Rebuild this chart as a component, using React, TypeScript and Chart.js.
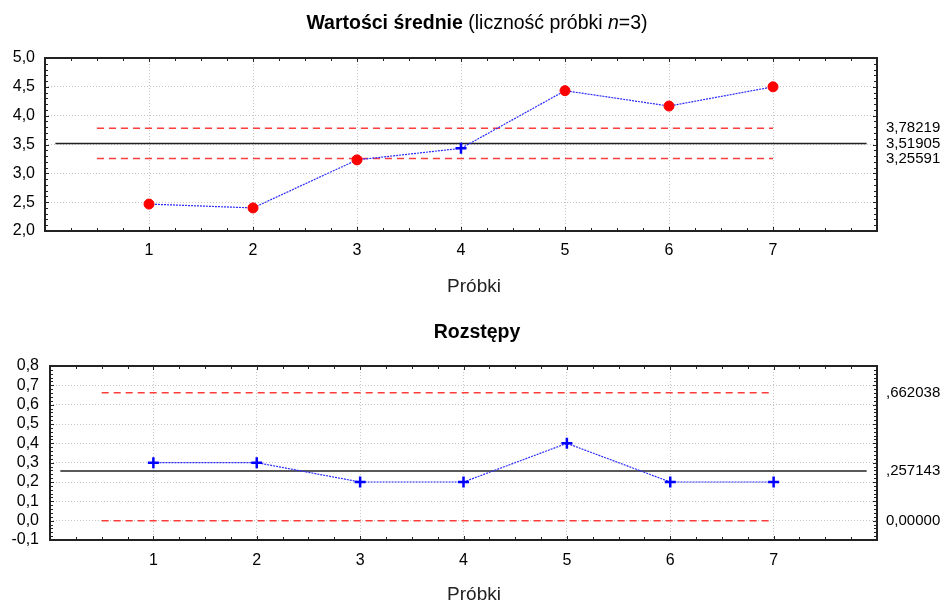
import React, { useEffect, useRef } from 'react';
import { Chart, registerables } from 'chart.js';
Chart.register(...registerables);

// ---- data ----
const samples = [1, 2, 3, 4, 5, 6, 7];
const means = [2.4667, 2.4, 3.2333, 3.4333, 4.4333, 4.1667, 4.5];
const meanLimits = [3.78219, 3.51905, 3.25591]; // UCL, CL, LCL
const meanLimitLabels = ['3,78219', '3,51905', '3,25591'];
const ranges = [0.3, 0.3, 0.2, 0.2, 0.4, 0.2, 0.2];
const rangeLimits = [0.662038, 0.257143, 0.0];
const rangeLimitLabels = [',662038', ',257143', '0,00000'];
const meanAxis = [2.0, 5.0, 0.5];
const rangeAxis = [-0.1, 0.8, 0.1];
const xAxisRange = [0, 8];
const centerSpan = [0.1, 7.9];
const limitSpan = [0.5, 7];
const xTitle = 'Próbki';
const meanTitle = [
  { text: 'Wartości średnie', style: 'bold' },
  { text: ' (liczność próbki ', style: 'normal' },
  { text: 'n', style: 'italic' },
  { text: '=3)', style: 'normal' },
];
const rangeTitle = [{ text: 'Rozstępy', style: 'bold' }];

const FONT = "'Liberation Sans', Arial, sans-serif";

function drawSegments(ctx: any, segs: any[], size: number, centerX: number, baseline: number, color: string) {
  ctx.save();
  ctx.fillStyle = color;
  ctx.textBaseline = 'alphabetic';
  ctx.textAlign = 'left';
  const fontFor = (s: string) =>
    (s === 'bold' ? 'bold ' : s === 'italic' ? 'italic ' : '') + size + 'px ' + FONT;
  let total = 0;
  const widths = segs.map((sg: any) => {
    ctx.font = fontFor(sg.style);
    const w = ctx.measureText(sg.text).width;
    total += w;
    return w;
  });
  let x = centerX - total / 2;
  segs.forEach((sg: any, i: number) => {
    ctx.font = fontFor(sg.style);
    ctx.fillText(sg.text, x, baseline);
    x += widths[i];
  });
  ctx.restore();
}

const titlePlugin = {
  id: 'mixedTitle',
  afterDraw(chart: any, _args: any, opts: any) {
    const { ctx } = chart;
    drawSegments(ctx, opts.segments || [], opts.size, opts.centerX, opts.baseline, '#000');
    drawSegments(ctx, [{ text: opts.xTitle, style: 'normal' }], opts.xTitleSize, opts.xTitleX, opts.xTitleBaseline, '#222');
  },
};

const framePlugin = {
  id: 'frame',
  afterDraw(chart: any, _args: any, opts: any) {
    const { ctx, chartArea: a, scales } = chart;
    const xs = scales.x;
    const ys = scales.y;
    ctx.save();
    ctx.strokeStyle = '#222';
    ctx.lineWidth = 1;
    const seg = (x1: number, y1: number, x2: number, y2: number) => {
      ctx.beginPath();
      ctx.moveTo(x1, y1);
      ctx.lineTo(x2, y2);
      ctx.stroke();
    };
    const nx = Math.round((xs.max - xs.min) / opts.xMinor);
    for (let i = 0; i <= nx; i++) {
      const v = xs.min + i * opts.xMinor;
      const px = Math.round(xs.getPixelForValue(v)) + 0.5;
      const major = Math.abs(v - Math.round(v)) < 1e-6;
      const len = major ? 4 : 3;
      seg(px, a.top, px, a.top + len);
      seg(px, a.bottom, px, a.bottom - len);
    }
    const ny = Math.round((ys.max - ys.min) / opts.yMinor);
    for (let i = 0; i <= ny; i++) {
      const v = ys.min + i * opts.yMinor;
      const py = Math.round(ys.getPixelForValue(v)) + 0.5;
      const major = i % opts.yPerMajor === 0;
      const len = major ? 4 : 3;
      seg(a.left, py, a.left + len, py);
      seg(a.right, py, a.right - len, py);
    }
    ctx.lineWidth = 2;
    ctx.strokeStyle = '#222';
    ctx.strokeRect(a.left, a.top, a.right - a.left, a.bottom - a.top);
    ctx.restore();
  },
};

function makeConfig(p: any) {
  const [ucl, cl, lcl] = p.limits;
  const out = (v: number) => v > ucl || v < lcl;
  const fmt = (v: number) => Number(v).toFixed(1).replace('.', ',');
  return {
    type: 'scatter',
    data: {
      datasets: [
        {
          data: p.values.map((v: number, i: number) => ({ x: samples[i], y: v })),
          showLine: true,
          borderColor: '#2b2bff',
          borderWidth: 1.2,
          borderDash: [2, 1],
          pointStyle: p.values.map((v: number) => (out(v) ? 'circle' : 'cross')),
          pointRadius: p.values.map((v: number) => (out(v) ? 5 : 5.5)),
          pointBorderWidth: p.values.map((v: number) => (out(v) ? 1 : 2.5)),
          pointBackgroundColor: p.values.map((v: number) => (out(v) ? '#ff0000' : '#0000ff')),
          pointBorderColor: p.values.map((v: number) => (out(v) ? '#ff0000' : '#0000ff')),
        },
        {
          data: centerSpan.map((x) => ({ x, y: cl })),
          showLine: true,
          borderColor: '#222',
          borderWidth: 1.5,
          pointRadius: 0,
        },
        {
          data: limitSpan.map((x) => ({ x, y: ucl })),
          showLine: true,
          borderColor: '#ff3c3c',
          borderWidth: 1.5,
          borderDash: [7, 5],
          pointRadius: 0,
        },
        {
          data: limitSpan.map((x) => ({ x, y: lcl })),
          showLine: true,
          borderColor: '#ff3c3c',
          borderWidth: 1.5,
          borderDash: [7, 5],
          pointRadius: 0,
        },
      ],
    },
    options: {
      animation: false,
      responsive: false,
      events: [],
      layout: { padding: { top: p.padTop, left: 0, right: 0, bottom: 0 } },
      plugins: {
        legend: { display: false },
        tooltip: { enabled: false },
        title: { display: false },
        mixedTitle: {
          segments: p.title,
          size: 19.5,
          centerX: 477,
          baseline: p.titleBaseline,
          xTitle,
          xTitleSize: 19,
          xTitleX: 474,
          xTitleBaseline: p.xTitleBaseline,
        },
        frame: { xMinor: 0.25, yMinor: p.axis[2] / 5, yPerMajor: 5 },
      },
      scales: {
        x: {
          type: 'linear',
          min: xAxisRange[0],
          max: xAxisRange[1],
          afterFit: (s: any) => {
            s.height = p.xHeight;
          },
          grid: { color: '#c4c4c4', lineWidth: 1, drawTicks: false },
          border: { display: false, dash: [1, 2] },
          ticks: {
            stepSize: 1,
            autoSkip: false,
            maxRotation: 0,
            padding: p.xTickPad,
            color: '#000',
            font: { family: FONT, size: 16 },
            callback: (v: number) => (samples.includes(v) ? String(v) : ''),
          },
          title: { display: false },
        },
        y: {
          type: 'linear',
          position: 'left',
          min: p.axis[0],
          max: p.axis[1],
          afterFit: (s: any) => {
            s.width = p.yWidth;
          },
          grid: { color: '#c4c4c4', lineWidth: 1, drawTicks: false },
          border: { display: false, dash: [1, 2] },
          ticks: {
            stepSize: p.axis[2],
            autoSkip: false,
            padding: p.yTickPad,
            color: '#000',
            font: { family: FONT, size: 16 },
            callback: (v: number) => fmt(v),
          },
        },
        y2: {
          type: 'linear',
          position: 'right',
          min: p.axis[0],
          max: p.axis[1],
          afterFit: (s: any) => {
            s.width = 68;
          },
          afterBuildTicks: (s: any) => {
            s.ticks = p.limits.map((v: number) => ({ value: v }));
          },
          grid: { display: false, drawTicks: false },
          border: { display: false },
          ticks: {
            autoSkip: false,
            padding: 9,
            color: '#000',
            font: { family: FONT, size: 15 },
            callback: (_v: number, i: number) => p.limitLabels[i],
          },
        },
      },
    },
    plugins: [titlePlugin, framePlugin],
  };
}

function ChartCanvas(props: { height: number; params: any }) {
  const ref = useRef<HTMLCanvasElement | null>(null);
  useEffect(() => {
    if (!ref.current) return;
    const chart = new Chart(ref.current, makeConfig(props.params) as any);
    return () => chart.destroy();
  }, []);
  return <canvas ref={ref} width={945} height={props.height} style={{ display: 'block' }} />;
}

export default function App() {
  return (
    <div style={{ position: 'absolute', left: 0, top: 0, width: 945, height: 604, background: '#fff' }}>
      <ChartCanvas
        height={300}
        params={{
          values: means,
          limits: meanLimits,
          limitLabels: meanLimitLabels,
          axis: meanAxis,
          title: meanTitle,
          titleBaseline: 29,
          xTitleBaseline: 292,
          padTop: 58,
          xHeight: 69,
          yWidth: 45,
          xTickPad: 10,
          yTickPad: 10,
        }}
      />
      <ChartCanvas
        height={304}
        params={{
          values: ranges,
          limits: rangeLimits,
          limitLabels: rangeLimitLabels,
          axis: rangeAxis,
          title: rangeTitle,
          titleBaseline: 38,
          xTitleBaseline: 300,
          padTop: 66,
          xHeight: 64,
          yWidth: 50,
          xTickPad: 11,
          yTickPad: 11,
        }}
      />
    </div>
  );
}
